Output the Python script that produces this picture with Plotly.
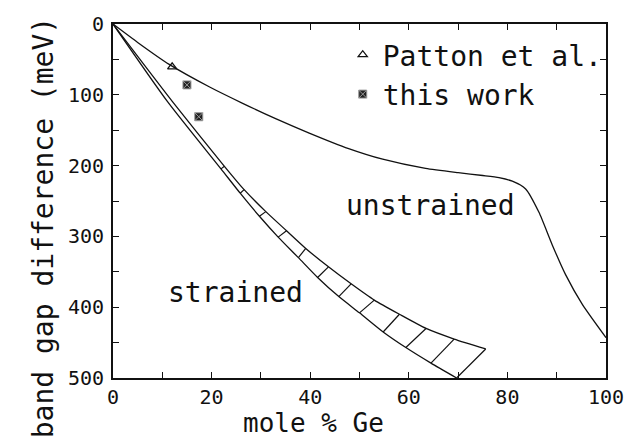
import plotly.graph_objects as go

# ---- data ----
unstr_x = [0, 5, 11.4, 19.6, 26.3, 33.1, 39.8, 47.8, 54.7, 63.4, 70, 75, 78.3, 81, 83.7, 86.4, 89.1, 91.8, 95.2, 100]
unstr_y = [0, 26, 57, 89, 112, 134, 154, 176, 191, 204, 210, 214, 217, 222, 233, 266, 312, 354, 396, 443]

# strained band: lower edge (larger difference) and upper edge; hatch lines join matching points
band_lo_x = [0, 11.1, 21.9, 25.8, 29.7, 33.5, 37.6, 41.5, 45.8, 50.0, 54.8, 59.4, 64.5, 69.7]
band_lo_y = [0, 110, 204.6, 239, 271.6, 301, 330, 358, 385, 408, 435, 457, 479, 500]
band_hi_x = [0, 12.1, 22.6, 26.6, 31.0, 35.2, 39.1, 43.7, 48.3, 53.0, 58.1, 63.5, 69.2, 75.6]
band_hi_y = [0, 110, 201, 234, 265, 292, 317, 343, 367, 390, 410, 430, 445, 459]

patton_x = [12.0]
patton_y = [60.5]
work_x = [15.0, 17.4]
work_y = [86, 131]

x_ticks = [0, 20, 40, 60, 80, 100]
y_ticks = [0, 100, 200, 300, 400, 500]

FONT = "DejaVu Sans Mono"
INK = "#111111"
BIG = 28

fig = go.Figure()

spline = dict(color=INK, width=1.3, shape="spline", smoothing=0.6)
fig.add_trace(go.Scatter(x=unstr_x, y=unstr_y, mode="lines", line=spline, showlegend=False, hoverinfo="skip"))
fig.add_trace(go.Scatter(x=band_lo_x, y=band_lo_y, mode="lines", line=spline, showlegend=False, hoverinfo="skip"))
fig.add_trace(go.Scatter(x=band_hi_x, y=band_hi_y, mode="lines", line=spline, showlegend=False, hoverinfo="skip"))

hx, hy = [], []
for i in range(2, len(band_lo_x)):
    hx += [band_lo_x[i], band_hi_x[i], None]
    hy += [band_lo_y[i], band_hi_y[i], None]
fig.add_trace(go.Scatter(x=hx, y=hy, mode="lines", line=dict(color=INK, width=1.2),
                         showlegend=False, hoverinfo="skip"))

fig.add_trace(go.Scatter(x=patton_x, y=patton_y, mode="markers", name="Patton et al.",
                         marker=dict(symbol="triangle-up-open", size=8, color=INK, line=dict(width=1.3, color=INK))))
fig.add_trace(go.Scatter(x=work_x, y=work_y, mode="markers", name="this work",
                         marker=dict(symbol="square-x", size=8, color="#222222", line=dict(width=1, color="#999999"))))

fig.add_annotation(x=64.3, y=257, text="unstrained", showarrow=False, xref="x", yref="y",
                   font=dict(family=FONT, size=BIG, color=INK))
fig.add_annotation(x=24.9, y=379, text="strained", showarrow=False, xref="x", yref="y",
                   font=dict(family=FONT, size=BIG, color=INK))
fig.add_annotation(x=0.406, y=-0.174, text="mole % Ge", showarrow=False, xref="paper", yref="paper",
                   font=dict(family=FONT, size=26, color=INK))
fig.add_annotation(x=-0.178, y=0.425, text="band gap difference (meV)", showarrow=False, xref="paper", yref="paper",
                   textangle=-90, font=dict(family=FONT, size=BIG, color=INK))

axis_common = dict(showgrid=False, zeroline=False, showline=True, linecolor=INK, linewidth=2,
                   mirror="ticks", ticks="inside", ticklen=6, tickwidth=1, tickcolor=INK,
                   tickfont=dict(family=FONT, size=20, color=INK))

fig.update_xaxes(range=[0, 100], tickvals=x_ticks, ticktext=[str(v) for v in x_ticks],
                 minor=dict(dtick=10, ticks="inside", ticklen=6, tickwidth=1, tickcolor=INK),
                 ticklabelstandoff=0, **axis_common)
fig.update_yaxes(range=[500, 0], tickvals=y_ticks, ticktext=[str(v) for v in y_ticks],
                 minor=dict(dtick=50, ticks="inside", ticklen=6, tickwidth=1, tickcolor=INK),
                 ticklabelstandoff=3, **axis_common)

fig.update_layout(
    width=636, height=438,
    margin=dict(l=113, r=29, t=19, b=60),
    paper_bgcolor="white", plot_bgcolor="white",
    showlegend=True,
    legend=dict(x=0.466, y=0.983, xanchor="left", yanchor="top", bgcolor="rgba(0,0,0,0)",
                font=dict(family=FONT, size=BIG, color=INK), itemwidth=30, tracegroupgap=0),
)

fig.write_html("out.html")
